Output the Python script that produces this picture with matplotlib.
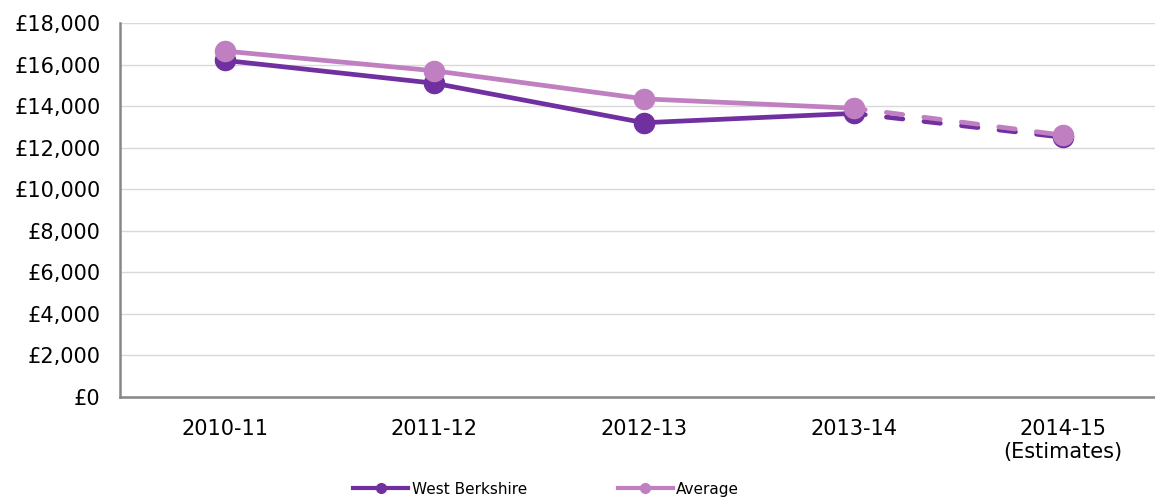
import matplotlib
matplotlib.use("Agg")
import matplotlib.pyplot as plt
from matplotlib.ticker import FuncFormatter, MultipleLocator
from matplotlib.lines import Line2D

categories = ["2010-11", "2011-12", "2012-13", "2013-14", "2014-15\n(Estimates)"]
west_berkshire = [16200, 15100, 13200, 13650, 12500]
average = [16650, 15700, 14350, 13900, 12600]

c_wb = "#7030A0"
c_avg = "#C07FC0"

fig = plt.figure(figsize=(11.55, 4.98), dpi=100)
ax = fig.add_axes([120/1155, 1-397/498, (1155-120)/1155, (397-23)/498])

x = list(range(len(categories)))
n_act = 4  # actual values; last is estimate

for vals, col, z in [(west_berkshire, c_wb, 3), (average, c_avg, 4)]:
    ax.plot(x[:n_act], vals[:n_act], color=col, lw=3.4, marker="o", ms=14.5,
            solid_capstyle="round", zorder=z)
    ax.plot(x[n_act-1:], vals[n_act-1:], color=col, lw=3.4, ls=(1, (3.5, 4.5)),
            dash_capstyle="round", zorder=z)
    ax.plot(x[n_act:], vals[n_act:], color=col, lw=0, marker="o", ms=14.5, zorder=z)

ax.set_ylim(0, 18000)
ax.set_xlim(-0.5, 4.5 - 13/210)
ax.yaxis.set_major_locator(MultipleLocator(2000))
ax.yaxis.set_major_formatter(FuncFormatter(lambda v, p: f"£{int(v):,}"))
ax.set_xticks(x)
ax.set_xticklabels(categories)
ax.grid(axis="y", color="#D9D9D9", lw=1)
ax.set_axisbelow(True)
for s in ["top", "right"]:
    ax.spines[s].set_visible(False)
for s in ["left", "bottom"]:
    ax.spines[s].set_color("#878787")
    ax.spines[s].set_linewidth(1.8)
ax.tick_params(axis="both", length=0, labelsize=15, colors="black")
ax.tick_params(axis="x", pad=16)
ax.tick_params(axis="y", pad=14)

handles = [Line2D([], [], color=c_wb, lw=3, marker="o", ms=7),
           Line2D([], [], color=c_avg, lw=3, marker="o", ms=7)]
fig.legend(handles, ["West Berkshire", "Average"], loc="center",
           bbox_to_anchor=(0.473, 1-489/498), ncol=2, frameon=False,
           fontsize=11, handlelength=3.6, handletextpad=0.25, columnspacing=5.9)

fig.savefig("out.png", dpi=100)
